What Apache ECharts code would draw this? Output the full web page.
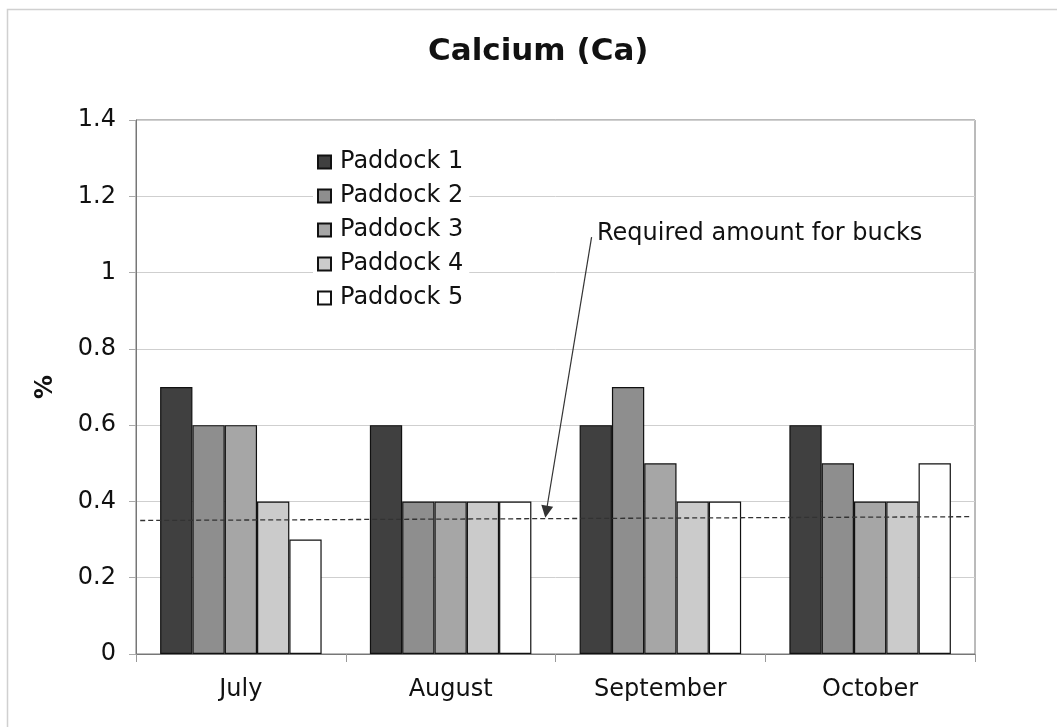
<!DOCTYPE html>
<html>
<head>
<meta charset="utf-8">
<script src="https://cdn.jsdelivr.net/npm/echarts@6/dist/echarts.min.js"></script>
<style>
html, body { margin: 0; padding: 0; background: #fff; }
#main { width: 1057px; height: 727px; }
</style>
</head>
<body>
<div id="main"></div>
<script>
var months = ['July', 'August', 'September', 'October'];
var paddockNames = ['Paddock 1', 'Paddock 2', 'Paddock 3', 'Paddock 4', 'Paddock 5'];
var paddock1 = [0.7, 0.6, 0.6, 0.6];
var paddock2 = [0.6, 0.4, 0.7, 0.5];
var paddock3 = [0.6, 0.4, 0.5, 0.4];
var paddock4 = [0.4, 0.4, 0.4, 0.4];
var paddock5 = [0.3, 0.4, 0.4, 0.5];
var requiredLine = [[0.005, 0.35], [0.994, 0.36]]; // required amount for bucks
var yTicks = [0, 0.2, 0.4, 0.6, 0.8, 1, 1.2, 1.4];

var fills = ['#404040', '#8e8e8e', '#a6a6a6', '#cbcbcb', '#ffffff'];
var values = [paddock1, paddock2, paddock3, paddock4, paddock5];
var font = 'DejaVu Sans, Verdana, sans-serif';

var series = [];
for (var i = 0; i < values.length; i++) {
	series.push({
		name: paddockNames[i],
		type: 'bar',
		barGap: '0%',
		barCategoryGap: '23%',
		itemStyle: { color: fills[i], borderColor: '#111', borderWidth: 1.2 },
		data: values[i]
	});
}
// dashed requirement line + arrow
series.push({
	name: 'required',
	type: 'line',
	xAxisIndex: 1,
	z: 5,
	symbol: 'none',
	silent: true,
	lineStyle: { color: '#333', width: 1.3, type: [5, 3] },
	data: requiredLine,
	markLine: {
		silent: true,
		symbol: ['none', 'triangle'],
		symbolSize: [12, 12],
		lineStyle: { color: '#333', width: 1.2, type: 'solid' },
		label: { show: false },
		data: [[{ coord: [0.543, 1.093] }, { coord: [0.489, 0.373] }]]
	}
});

var myChart = echarts.init(document.getElementById('main'));
var option = {
	backgroundColor: '#fff',
	animation: false,
	title: {
		text: 'Calcium (Ca)',
		left: 423,
		top: 31,
		textStyle: { fontFamily: font, fontSize: 31, fontWeight: 'bold', color: '#111' }
	},
	legend: {
		orient: 'vertical',
		left: 313,
		top: 148,
		data: paddockNames,
		icon: 'rect',
		itemWidth: 13,
		itemHeight: 13,
		itemGap: 10,
		backgroundColor: '#fff',
		padding: [2, 6, 2, 4],
		textStyle: { fontFamily: font, fontSize: 24, color: '#111', padding: [0, 0, 0, 4] }
	},
	grid: {
		left: 136, right: 82, top: 120, bottom: 73,
		show: true, borderColor: '#777', borderWidth: 1, backgroundColor: 'transparent'
	},
	xAxis: [{
		type: 'category',
		data: months,
		axisLine: { lineStyle: { color: '#777' } },
		axisTick: { show: true, length: 8, lineStyle: { color: '#999' } },
		axisLabel: { fontFamily: font, fontSize: 24, color: '#111', margin: 24 }
	}, {
		type: 'value',
		min: 0, max: 1,
		show: false
	}],
	yAxis: {
		type: 'value',
		min: 0, max: 1.4, interval: 0.2,
		name: '%',
		nameLocation: 'middle',
		nameGap: 78,
		nameRotate: 90,
		nameTextStyle: { fontFamily: font, fontSize: 24, fontWeight: 'bold', color: '#111' },
		axisLine: { show: true, lineStyle: { color: '#777' } },
		axisTick: { show: true, length: 7, lineStyle: { color: '#aaa' } },
		axisLabel: {
			fontFamily: font, fontSize: 24, color: '#111', margin: 20,
			formatter: function (v) {
				for (var k = 0; k < yTicks.length; k++) {
					if (Math.abs(yTicks[k] - v) < 1e-6) return String(yTicks[k]);
				}
				return '';
			}
		},
		splitLine: { lineStyle: { color: '#cfcfcf' } }
	},
	graphic: [{
		type: 'rect',
		left: 5, top: 7, z: -1,
		shape: { width: 1200, height: 900 },
		style: { fill: 'none', stroke: '#d0d0d0', lineWidth: 1.5 }
	}, {
		type: 'text',
		left: 597, top: 222, z: 10,
		style: { text: 'Required amount for bucks', font: '24px ' + font, fill: '#111' }
	}],
	series: series
};
myChart.setOption(option);
</script>
</body>
</html>
